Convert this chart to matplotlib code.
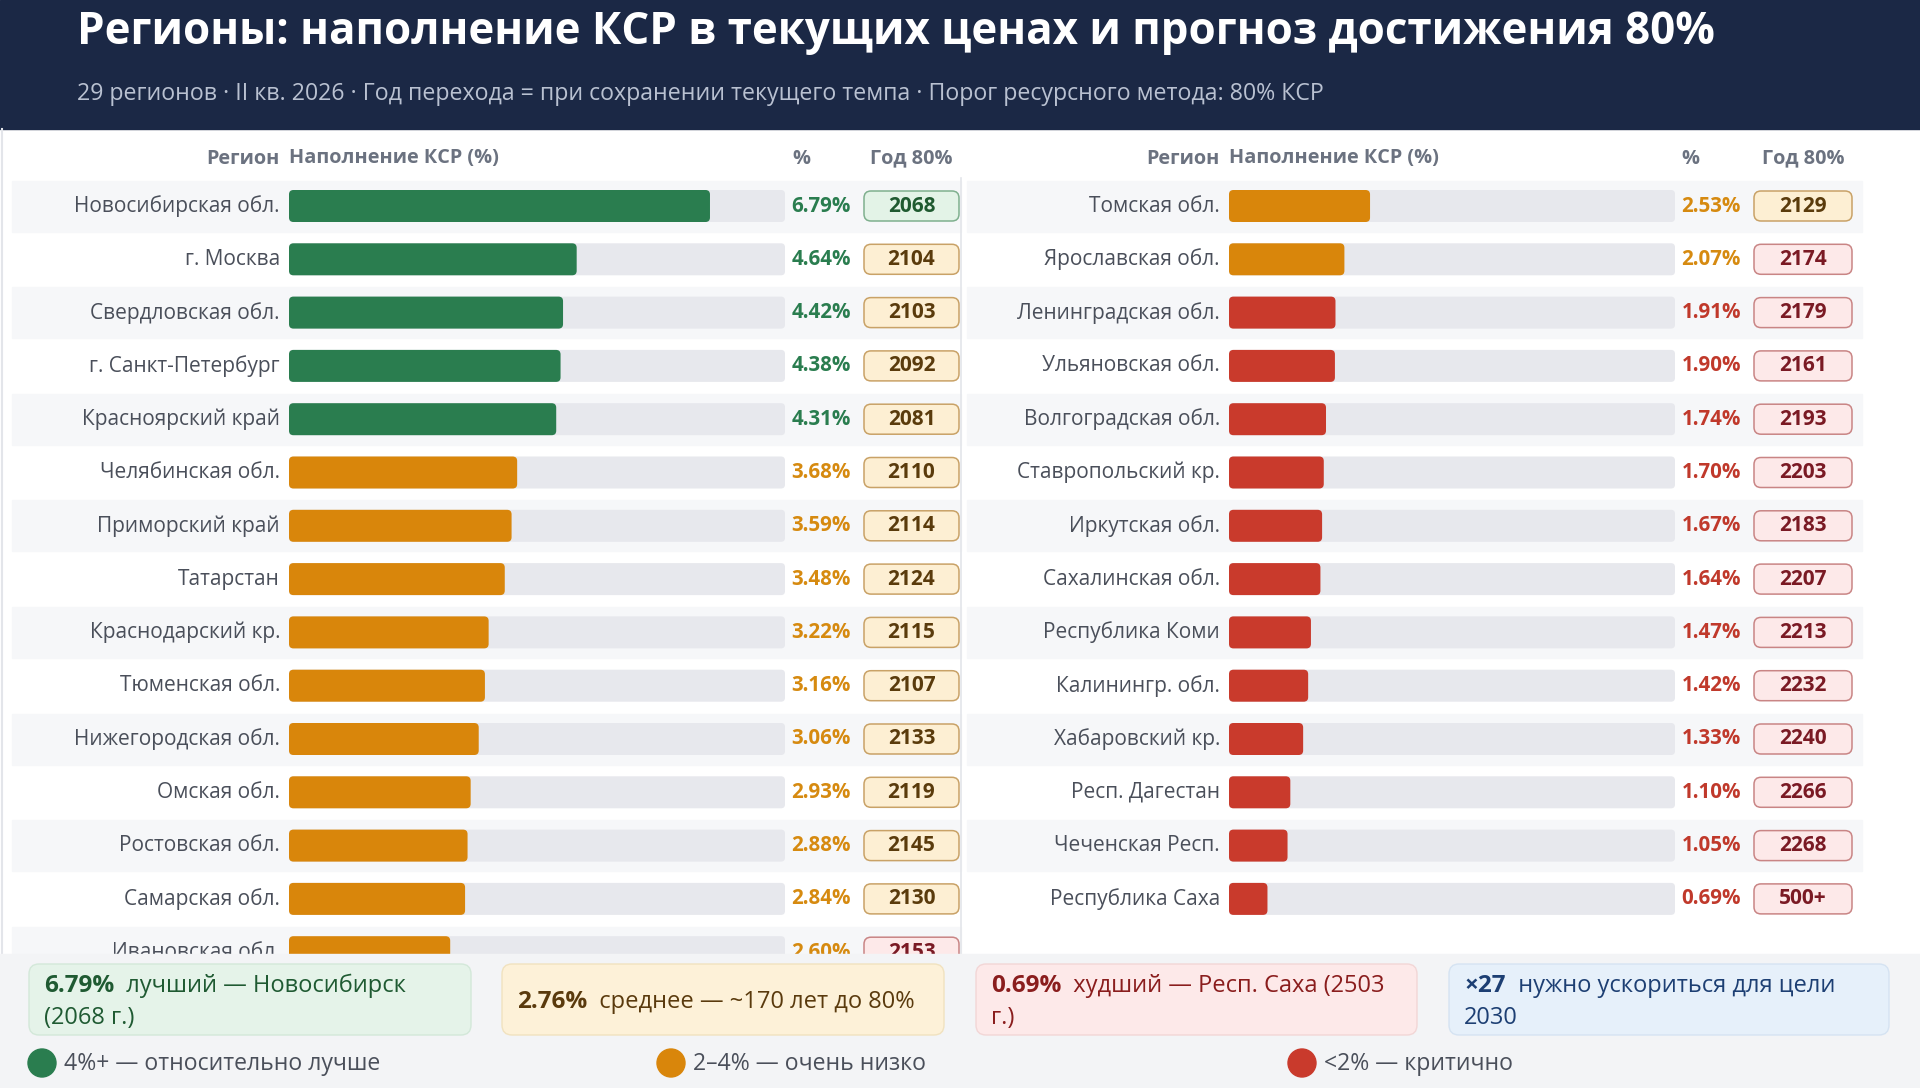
import matplotlib
matplotlib.use("Agg")
import matplotlib.pyplot as plt
from matplotlib.patches import Rectangle, FancyBboxPatch, Circle

plt.rcParams['font.family'] = ['Open Sans', 'DejaVu Sans']

# ---------------- data ----------------
left_regions = ["Новосибирская обл.", "г. Москва", "Свердловская обл.", "г. Санкт-Петербург",
                "Красноярский край", "Челябинская обл.", "Приморский край", "Татарстан",
                "Краснодарский кр.", "Тюменская обл.", "Нижегородская обл.", "Омская обл.",
                "Ростовская обл.", "Самарская обл.", "Ивановская обл."]
left_values = [6.79, 4.64, 4.42, 4.38, 4.31, 3.68, 3.59, 3.48, 3.22, 3.16, 3.06, 2.93, 2.88, 2.84, 2.60]
left_years = ["2068", "2104", "2103", "2092", "2081", "2110", "2114", "2124", "2115", "2107",
              "2133", "2119", "2145", "2130", "2153"]

right_regions = ["Томская обл.", "Ярославская обл.", "Ленинградская обл.", "Ульяновская обл.",
                 "Волгоградская обл.", "Ставропольский кр.", "Иркутская обл.", "Сахалинская обл.",
                 "Республика Коми", "Калинингр. обл.", "Хабаровский кр.", "Респ. Дагестан",
                 "Чеченская Респ.", "Республика Саха"]
right_values = [2.53, 2.07, 1.91, 1.90, 1.74, 1.70, 1.67, 1.64, 1.47, 1.42, 1.33, 1.10, 1.05, 0.69]
right_years = ["2129", "2174", "2179", "2161", "2193", "2203", "2183", "2207", "2213", "2232",
               "2240", "2266", "2268", "500+"]

scale_max = 8.0

title = "Регионы: наполнение КСР в текущих ценах и прогноз достижения 80%"
subtitle = ("29 регионов · II кв. 2026 · Год перехода = при сохранении текущего темпа · "
            "Порог ресурсного метода: 80% КСР")

cards = [
    ("6.79%", "лучший — Новосибирск", "(2068 г.)"),
    ("2.76%", "среднее — ~170 лет до 80%", None),
    ("0.69%", "худший — Респ. Саха (2503", "г.)"),
    ("×27", "нужно ускориться для цели", "2030"),
]
legend_labels = ["4%+ — относительно лучше", "2–4% — очень низко", "<2% — критично"]

# ---------------- styles ----------------
W, H = 1920, 1088
NAVY = "#1b2845"
GREEN, ORANGE, RED = "#2a7d4f", "#d9860b", "#c93a2c"
PCT_COL = {"g": "#2a7d4f", "o": "#d68a10", "r": "#c0392b"}
TRACK = "#e7e8ed"
STRIPE = "#f6f7f9"
GRAYTXT = "#4a4f5a"
HEADTXT = "#6b7280"

def cat(v):
    return "g" if v >= 4 else ("o" if v >= 2 else "r")

BARCOL = {"g": GREEN, "o": ORANGE, "r": RED}

def badge_style(y):
    if not y.isdigit():
        return ("#fde9e9", "#c98585", "#7a1a24")
    yi = int(y)
    if yi < 2080:
        return ("#e3f3e7", "#7fb08e", "#1f5a30")
    if yi <= 2150:
        return ("#fdefd3", "#c9a267", "#5a3b0c")
    return ("#fde9e9", "#c98585", "#7a1a24")

def round_bars(ax, container, px_per_unit, radius_px=4.5):
    """Replace the rectangles of a barh container by rounded boxes of same geometry."""
    for r in container.patches:
        x, y, w, h = r.get_x(), r.get_y(), r.get_width(), r.get_height()
        fb = FancyBboxPatch((x, y), w, h,
                            boxstyle=f"round,pad=0,rounding_size={radius_px / px_per_unit}",
                            mutation_aspect=px_per_unit,
                            facecolor=r.get_facecolor(), edgecolor="none", zorder=r.get_zorder())
        r.set_visible(False)
        ax.add_patch(fb)

fig = plt.figure(figsize=(W / 100, H / 100), dpi=100)
fig.patch.set_facecolor("white")

# background / text axes in pixel coordinates
bg = fig.add_axes([0, 0, 1, 1], zorder=0)
bg.set_xlim(0, W)
bg.set_ylim(H, 0)
bg.axis("off")

bg.add_patch(Rectangle((0, 0), W, 129, color=NAVY, zorder=0))
bg.text(77, 44, title, color="white", fontsize=31.6, fontweight="bold", va="baseline", ha="left")
bg.text(77, 100.5, subtitle, color="#b9c1d1", fontsize=16.7, va="baseline", ha="left")

row0 = 206
dy = 53.3
bar_h = 32

panels = [
    dict(regions=left_regions, values=left_values, years=left_years,
         stripe=(12, 961), label_x=280, track=(289, 785), pct_x=851, pct_hx=792,
         badge=(863, 960)),
    dict(regions=right_regions, values=right_values, years=right_years,
         stripe=(967, 1862), label_x=1220, track=(1229, 1675), pct_x=1741, pct_hx=1681,
         badge=(1753, 1853)),
]

# separator
bg.plot([961, 961], [178, 955], color="#e3e5ea", lw=1.2, zorder=1)
bg.plot([2, 2], [129, 955], color="#e3e5ea", lw=1.5, zorder=1)

for p in panels:
    s0, s1 = p["stripe"]
    t0, t1 = p["track"]
    b0, b1 = p["badge"]
    # column headers
    hk = dict(color=HEADTXT, fontsize=14.3, fontweight="bold", va="center")
    bg.text(p["label_x"], 158.5, "Регион", ha="right", **hk)
    bg.text(t0, 158.5, "Наполнение КСР (%)", ha="left", **hk)
    bg.text(p["pct_hx"], 158.5, "%", ha="left", **hk)
    bg.text((b0 + b1) / 2, 158.5, "Год 80%", ha="center", **hk)

    ys = [row0 + i * dy for i in range(len(p["regions"]))]
    for i, (reg, val, yr, yc) in enumerate(zip(p["regions"], p["values"], p["years"], ys)):
        if i % 2 == 0:
            bg.add_patch(Rectangle((s0, yc - 25.5), s1 - s0, 51, color=STRIPE, zorder=0.5))
        bg.text(p["label_x"], yc, reg, color=GRAYTXT, fontsize=15, ha="right", va="center")
        c = cat(val)
        bg.text(p["pct_x"], yc, f"{val:.2f}%", color=PCT_COL[c], fontsize=14.8,
                fontweight="bold", ha="right", va="center")
        fc, ec, tc = badge_style(yr)
        bg.add_patch(FancyBboxPatch((b0 + 1, yc - 15), (b1 - b0) - 2, 30,
                                    boxstyle="round,pad=0,rounding_size=7",
                                    facecolor=fc, edgecolor=ec, lw=1.1, zorder=2))
        bg.text((b0 + b1) / 2, yc, yr, color=tc, fontsize=15, fontweight="bold",
                ha="center", va="center", zorder=3)

    # bar axes: x in percent, y in pixels
    bax = fig.add_axes([t0 / W, 0, (t1 - t0) / W, 1], zorder=1)
    bax.set_xlim(0, scale_max)
    bax.set_ylim(H, 0)
    bax.axis("off")
    bax.patch.set_alpha(0)
    ppu = (t1 - t0) / scale_max
    tr = bax.barh(ys, [scale_max] * len(ys), height=bar_h, color=TRACK, left=0, zorder=1)
    br = bax.barh(ys, p["values"], height=bar_h,
                  color=[BARCOL[cat(v)] for v in p["values"]], left=0, zorder=2)
    round_bars(bax, tr, ppu, 4)
    round_bars(bax, br, ppu, 4.5)

# bottom panel
bot = fig.add_axes([0, 0, 1, 1], zorder=2)
bot.set_xlim(0, W)
bot.set_ylim(H, 0)
bot.axis("off")
bot.patch.set_alpha(0)
bot.add_patch(Rectangle((0, 954), W, H - 954, color="#f3f4f6", zorder=0))

card_x = [(29, 471), (502, 944), (976, 1417), (1449, 1889)]
card_style = [("#e5f3e9", "#d3e8d9", "#1f5a32"),
              ("#fdf1d8", "#f1e2bf", "#5a3a0d"),
              ("#fde9e9", "#f2d6d6", "#8a1d1d"),
              ("#e6f0fa", "#d5e3f2", "#1d3f73")]
for (x0, x1), (fc, ec, tc), (big, l1, l2) in zip(card_x, card_style, cards):
    bot.add_patch(FancyBboxPatch((x0, 964), x1 - x0, 71,
                                 boxstyle="round,pad=0,rounding_size=10",
                                 facecolor=fc, edgecolor=ec, lw=1.0, zorder=1))
    y1 = 986 if l2 else 1001.5
    t = bot.text(x0 + 15, y1, big, color=tc, fontsize=17.5, fontweight="bold",
                 ha="left", va="center", zorder=2)
    bot.annotate("  " + l1, xy=(1, 0.5), xycoords=t, color=tc, fontsize=17,
                 ha="left", va="center", zorder=2)
    if l2:
        bot.text(x0 + 15, 1018, l2, color=tc, fontsize=17, ha="left", va="center", zorder=2)

for cx, col, lab in zip([42, 671, 1302], [GREEN, ORANGE, RED], legend_labels):
    bot.add_patch(Circle((cx, 1063), 14, color=col, zorder=2))
    bot.text(cx + 22, 1064.5, lab, color=GRAYTXT, fontsize=16.6, ha="left", va="center", zorder=2)

fig.savefig("out.png", dpi=100, facecolor=fig.get_facecolor())
